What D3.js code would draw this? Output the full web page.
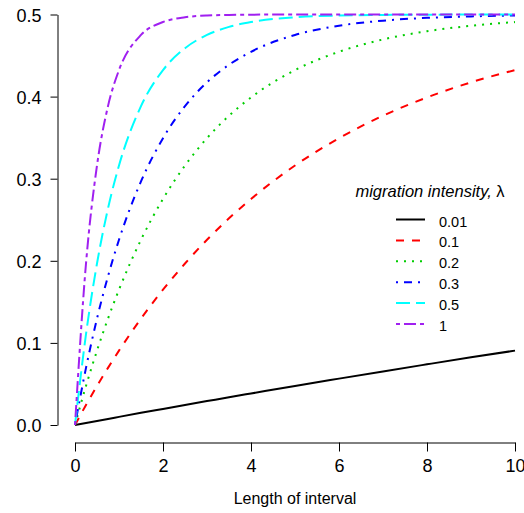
<!DOCTYPE html>
<html>
<head>
<meta charset="utf-8">
<script src="https://cdn.jsdelivr.net/npm/d3@7"></script>
<style>
  html, body { margin: 0; padding: 0; background: #fff; }
  svg { display: block; font-family: "Liberation Sans", Arial, sans-serif; }
</style>
</head>
<body>
<svg id="chart" width="524" height="513"></svg>
<script>
// Interval lengths at which each curve is sampled
const intervalLength = [0, 0.25, 0.5, 0.75, 1, 1.5, 2, 2.5, 3, 3.5, 4, 5, 6, 7, 8, 9, 10];

// Migration intensities (legend entries)
const lambdas = ["0.01", "0.1", "0.2", "0.3", "0.5", "1"];

// Curve values for each migration intensity
const lambda001 = [0, 0.0025, 0.0050, 0.0074, 0.0099, 0.0148, 0.0196, 0.0244, 0.0291, 0.0338, 0.0384, 0.0476, 0.0565, 0.0653, 0.0739, 0.0824, 0.0906];
const lambda01  = [0, 0.0244, 0.0476, 0.0696, 0.0906, 0.1296, 0.1648, 0.1967, 0.2256, 0.2517, 0.2753, 0.3161, 0.3494, 0.3767, 0.3990, 0.4174, 0.4323];
const lambda02  = [0, 0.0476, 0.0906, 0.1296, 0.1648, 0.2256, 0.2753, 0.3161, 0.3494, 0.3767, 0.3990, 0.4323, 0.4546, 0.4696, 0.4796, 0.4863, 0.4908];
const lambda03  = [0, 0.0696, 0.1296, 0.1812, 0.2256, 0.2967, 0.3494, 0.3884, 0.4174, 0.4388, 0.4546, 0.4751, 0.4863, 0.4925, 0.4959, 0.4977, 0.4988];
const lambda05  = [0, 0.1106, 0.1967, 0.2638, 0.3161, 0.3884, 0.4323, 0.4590, 0.4751, 0.4849, 0.4908, 0.4966, 0.4988, 0.4995, 0.4998, 0.4999, 0.5000];
const lambda1   = [0, 0.1967, 0.3161, 0.3884, 0.4323, 0.4751, 0.4908, 0.4966, 0.4988, 0.4995, 0.4998, 0.5000, 0.5000, 0.5000, 0.5000, 0.5000, 0.5000];

// Axis ticks
const xTicks = [0, 2, 4, 6, 8, 10];
const yTicks = [0, 0.1, 0.2, 0.3, 0.4, 0.5];

const seriesValues = [lambda001, lambda01, lambda02, lambda03, lambda05, lambda1];
const colors = ["#000000", "#ff0000", "#00cd00", "#0000ff", "#00ffff", "#a020f0"];
const dashes = [null, "8,8", "2,6", "2,6,8,6", "14,6", "4,4,12,4"];

const svg = d3.select("#chart");

const x = d3.scaleLinear().domain([0, 10]).range([75, 515]);
const y = d3.scaleLinear().domain([0, 0.5]).range([425, 14.5]);

// Y axis (detached line, horizontal labels)
const yAxis = d3.axisLeft(y).tickValues(yTicks).tickSize(7).tickSizeOuter(0).tickPadding(9)
  .tickFormat(d3.format(".1f"));
const gy = svg.append("g").attr("transform", "translate(57.5,0)").call(yAxis);
gy.select(".domain").attr("stroke", "#000").attr("stroke-width", 1);
gy.selectAll(".tick line").attr("stroke", "#000");
gy.selectAll(".tick text").attr("font-size", 18).attr("fill", "#000").attr("dy", "0.38em")
  .attr("font-family", "'Liberation Sans', Arial, sans-serif");

// X axis
const xAxis = d3.axisBottom(x).tickValues(xTicks).tickSize(9).tickSizeOuter(0).tickPadding(8)
  .tickFormat(d3.format("d"));
const gx = svg.append("g").attr("transform", "translate(0,442.5)").call(xAxis);
gx.select(".domain").attr("stroke", "#000").attr("stroke-width", 1);
gx.selectAll(".tick line").attr("stroke", "#000");
gx.selectAll(".tick text").attr("font-size", 18).attr("fill", "#000")
  .attr("font-family", "'Liberation Sans', Arial, sans-serif");

svg.append("text")
  .attr("x", 295).attr("y", 504)
  .attr("text-anchor", "middle")
  .attr("font-size", 16)
  .text("Length of interval");

// Curves
const line = d3.line()
  .x((d, i) => x(intervalLength[i]))
  .y(d => y(d))
  .curve(d3.curveMonotoneX);

svg.append("g").selectAll("path")
  .data(seriesValues)
  .join("path")
  .attr("d", line)
  .attr("fill", "none")
  .attr("stroke", (d, i) => colors[i])
  .attr("stroke-width", 2)
  .attr("stroke-dasharray", (d, i) => dashes[i]);

// Legend
const legend = svg.append("g");
legend.append("text")
  .attr("x", 430).attr("y", 196.5)
  .attr("text-anchor", "middle")
  .attr("font-size", 16.5)
  .html('<tspan font-style="italic">migration intensity, </tspan><tspan>λ</tspan>');

const rows = legend.selectAll("g.row")
  .data(lambdas)
  .join("g")
  .attr("class", "row")
  .attr("transform", (d, i) => `translate(0,${219.5 + i * 20.9})`);

rows.append("line")
  .attr("x1", 396).attr("x2", 425)
  .attr("y1", 0).attr("y2", 0)
  .attr("stroke", (d, i) => colors[i])
  .attr("stroke-width", 2)
  .attr("stroke-dasharray", (d, i) => dashes[i]);

rows.append("text")
  .attr("x", 439).attr("y", 7)
  .attr("font-size", 14.5)
  .text(d => d);
</script>
</body>
</html>
